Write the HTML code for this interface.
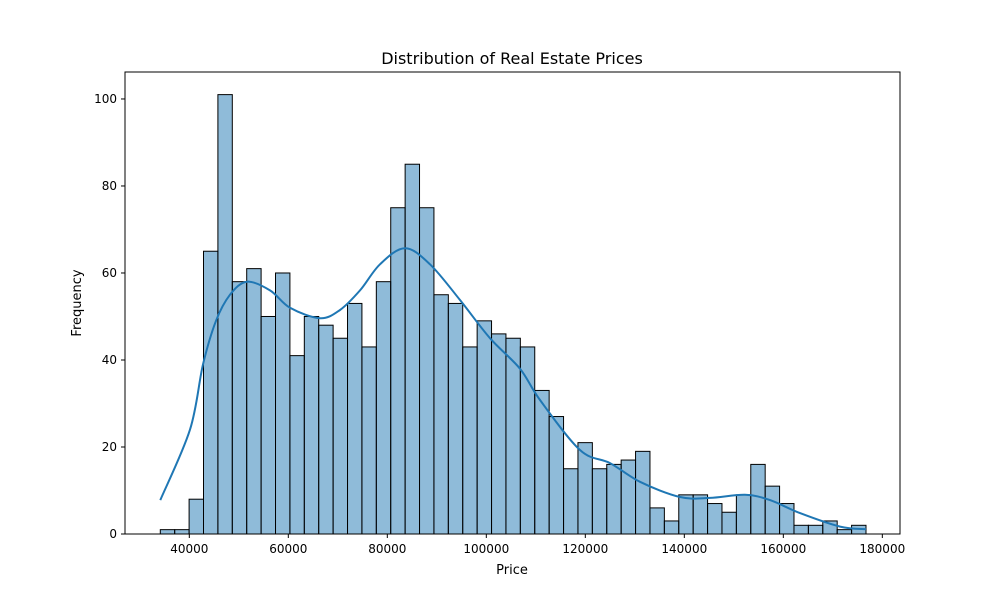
<!DOCTYPE html>
<html><head><meta charset="utf-8"><style>
body{margin:0;background:#fff;font-family:"Liberation Sans","DejaVu Sans",sans-serif;}
svg text{font-family:"DejaVu Sans","Liberation Sans",sans-serif;}
</style></head><body>
<svg id="chart" width="1000" height="600" xmlns="http://www.w3.org/2000/svg">
<rect width="1000" height="600" fill="#fff"/>
<text x="512" y="64" font-size="16" text-anchor="middle">Distribution of Real Estate Prices</text>
<g id="bars"></g>
<path id="kde" fill="none" stroke="#1f77b4" stroke-width="2"/>
<rect x="125" y="72" width="775" height="462" fill="none" stroke="#000" stroke-width="1"/>
<g id="xticks"></g>
<g id="yticks"></g>
<text x="512" y="574" font-size="13" text-anchor="middle">Price</text>
<text x="0" y="0" font-size="13" text-anchor="middle" transform="translate(81,303) rotate(-90)">Frequency</text>
</svg>
<script>
const counts=[1,1,8,65,101,58,61,50,60,41,50,48,45,53,43,58,75,85,75,55,53,43,49,46,45,43,33,27,15,21,15,16,17,19,6,3,9,9,7,5,9,16,11,7,2,2,3,1,2];
const binStart=34140;
const binEnd=176700;
const kdeX=[34140,40140,42770,45400,48230,51660,56300,60340,66400,70440,74480,78520,83570,88620,94680,100740,106800,110840,118920,124980,131040,139120,145180,152250,157300,163360,171440,176700];
const kdeY=[7.8,24,39,49,55,58,56,52,49.6,51.5,56,62,65.7,62,53.8,45,38,30.8,19.3,16.3,12,8.5,8.3,9,7.8,4.8,1.7,1.1];
const xTicks=[40000,60000,80000,100000,120000,140000,160000,180000];
const yTicks=[0,20,40,60,80,100];
const X0=125,X1=900,Y0=534,Y1=72,XMIN=27010,XMAX=183570,YMAX=106.2;
const sx=v=>X0+(v-XMIN)/(XMAX-XMIN)*(X1-X0);
const sy=v=>Y0-v/YMAX*(Y0-Y1);
const NS="http://www.w3.org/2000/svg";
const bars=document.getElementById('bars');
const bw=(binEnd-binStart)/counts.length;
counts.forEach((c,i)=>{
  const r=document.createElementNS(NS,'rect');
  const xa=sx(binStart+i*bw),xb=sx(binStart+(i+1)*bw);
  r.setAttribute('x',xa);r.setAttribute('width',xb-xa);
  r.setAttribute('y',sy(c));r.setAttribute('height',sy(0)-sy(c));
  r.setAttribute('fill','rgba(31,119,180,0.5)');r.setAttribute('stroke','#000');r.setAttribute('stroke-width','1');
  
  
  bars.appendChild(r);
});
const P=kdeX.map((x,i)=>[sx(x),sy(kdeY[i])]);
let d='M'+P[0][0].toFixed(1)+','+P[0][1].toFixed(1);
for(let i=0;i<P.length-1;i++){
  const p0=P[Math.max(0,i-1)],p1=P[i],p2=P[i+1],p3=P[Math.min(P.length-1,i+2)];
  const c1=[p1[0]+(p2[0]-p0[0])/6,p1[1]+(p2[1]-p0[1])/6];
  const c2=[p2[0]-(p3[0]-p1[0])/6,p2[1]-(p3[1]-p1[1])/6];
  d+='C'+c1[0].toFixed(1)+','+c1[1].toFixed(1)+' '+c2[0].toFixed(1)+','+c2[1].toFixed(1)+' '+p2[0].toFixed(1)+','+p2[1].toFixed(1);
}
document.getElementById('kde').setAttribute('d',d);
const xt=document.getElementById('xticks');
xTicks.forEach(t=>{
  const x=sx(t);
  const l=document.createElementNS(NS,'line');
  l.setAttribute('x1',x);l.setAttribute('x2',x);l.setAttribute('y1',Y0);l.setAttribute('y2',Y0+4);l.setAttribute('stroke','#000');
  
  
  xt.appendChild(l);
  const tx=document.createElementNS(NS,'text');
  tx.setAttribute('x',x);tx.setAttribute('y',Y0+19);tx.setAttribute('font-size','12');tx.setAttribute('text-anchor','middle');
  tx.textContent=t;
  
  
  xt.appendChild(tx);
});
const yt=document.getElementById('yticks');
yTicks.forEach(t=>{
  const y=sy(t);
  const l=document.createElementNS(NS,'line');
  l.setAttribute('x1',X0-4);l.setAttribute('x2',X0);l.setAttribute('y1',y);l.setAttribute('y2',y);l.setAttribute('stroke','#000');
  
  
  yt.appendChild(l);
  const tx=document.createElementNS(NS,'text');
  tx.setAttribute('x',X0-8);tx.setAttribute('y',y+4);tx.setAttribute('font-size','12');tx.setAttribute('text-anchor','end');
  tx.textContent=t;
  
  
  yt.appendChild(tx);
});
</script>
</body></html>
